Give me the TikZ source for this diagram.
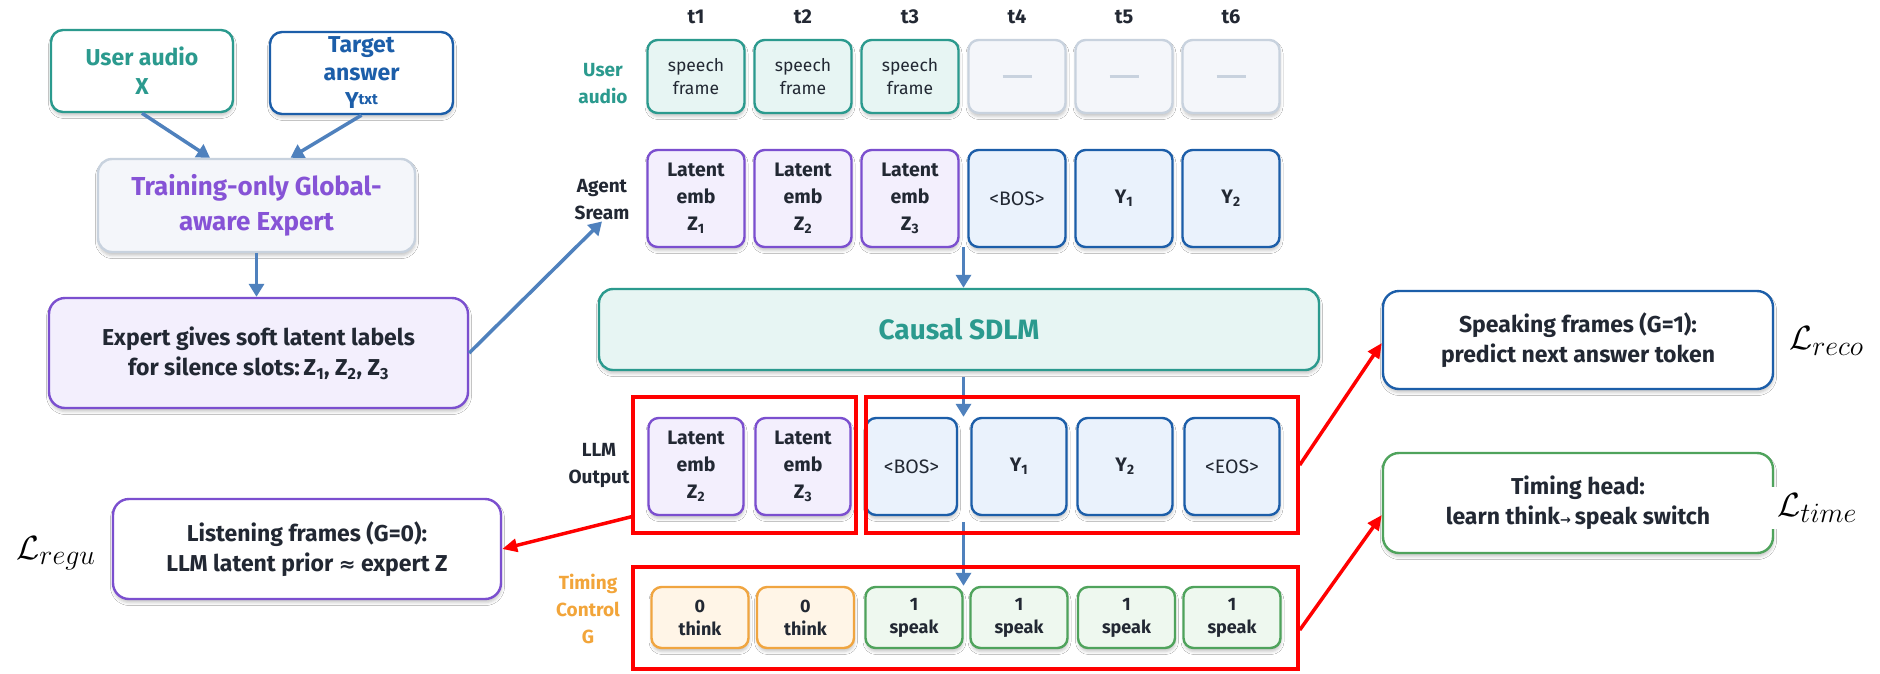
\documentclass[tikz,border=0pt]{standalone}
\usepackage{graphicx}
\usepackage{fontspec}
\setmainfont{Fira Sans}
\newfontfamily\symfont{DejaVu Sans}
\usetikzlibrary{arrows.meta,shadows.blur,calc}

\newcommand{\fsz}[2]{\fontsize{#1}{#2}\selectfont}
\newcommand{\lossterm}[1]{\scalebox{1.35}{\fsz{24.88}{25}$\mathcal{L}_{#1}$}}

\definecolor{tealc}{HTML}{2B9A8E}
\definecolor{tealf}{HTML}{E7F5F3}
\definecolor{bluec}{HTML}{1C5EA9}
\definecolor{bluef}{HTML}{EAF2FC}
\definecolor{purc}{HTML}{7B4FCF}
\definecolor{purf}{HTML}{F3EFFD}
\definecolor{purt}{HTML}{8653D6}
\definecolor{grayb}{HTML}{C8D2DE}
\definecolor{grayf}{HTML}{F4F6FA}
\definecolor{orc}{HTML}{F0A540}
\definecolor{orf}{HTML}{FFF5E7}
\definecolor{ort}{HTML}{F2A53A}
\definecolor{grc}{HTML}{4FA35C}
\definecolor{grf}{HTML}{EEF8EF}
\definecolor{flowc}{HTML}{4F81BD}
\definecolor{inkc}{HTML}{222833}

\begin{document}
\begin{tikzpicture}[x=1pt,y=-1pt,
  card/.style={rounded corners=12pt, line width=2.4pt, align=center, inner sep=0pt, text=inkc,
    blur shadow={shadow xshift=0.5pt, shadow yshift=-3.5pt, shadow blur radius=3pt, shadow opacity=22}},
  cell/.style={card, rounded corners=10pt, minimum width=97pt},
  tealcell/.style={cell, draw=tealc, fill=tealf, minimum height=73pt, font=\fsz{17.5}{23}},
  idlecell/.style={cell, draw=grayb, fill=grayf, minimum height=73pt},
  latcell/.style={cell, draw=purc, fill=purf, font=\bfseries\fsz{19.5}{27}},
  tokcell/.style={cell, draw=bluec, fill=bluef, font=\bfseries\fsz{19.5}{27}},
  thinkcell/.style={cell, draw=orc, fill=orf, minimum height=61pt, font=\bfseries\fsz{18}{23}},
  speakcell/.style={cell, draw=grc, fill=grf, minimum height=61pt, font=\bfseries\fsz{18}{23}},
  rowlab/.style={align=center, font=\bfseries\fsz{19}{27}, text=inkc, inner sep=1pt},
  tlab/.style={font=\bfseries\fsz{20}{20}, text=inkc},
  flow/.style={draw=flowc, line width=3.5pt, -{Triangle[length=13pt,width=15pt]}},
  redbox/.style={draw=red, line width=3.5pt, inner sep=0pt},
  redarrow/.style={draw=red, line width=3.5pt, -{Triangle[length=15pt,width=13pt]}},
  loss/.style={inner sep=2pt},
]
\fill[white] (0,0) rectangle (1880,673);
\useasboundingbox (0,0) rectangle (1880,673);

% ---------- expert branch (left) ----------
\node[card, draw=tealc, fill=white, minimum width=182pt, minimum height=82pt,
      text=tealc, font=\bfseries\fsz{23}{29}] (ua) at (142,71) {User audio\\X};
\node[card, draw=bluec, fill=white, minimum width=183pt, minimum height=82pt,
      text=bluec, font=\bfseries\fsz{23}{28}] (ta) at (361.5,73)
      {Target\\answer\\Y\raisebox{4pt}{\fsz{15}{15}txt}};
\node[card, rounded corners=14pt, draw=grayb, fill=grayf, minimum width=317pt, minimum height=93pt,
      text=purt, font=\bfseries\fsz{26}{35}] (tr) at (256.5,205.5)
      {Training-only Global-\\aware Expert};
\node[card, rounded corners=16pt, draw=purc, fill=purf, minimum width=419pt, minimum height=110pt,
      font=\bfseries\fsz{23}{30}] (ex) at (258.5,353)
      {Expert gives soft latent labels\\for silence slots:\,Z\textsubscript{1}, Z\textsubscript{2}, Z\textsubscript{3}};
\node[card, rounded corners=16pt, draw=purc, fill=white, minimum width=388pt, minimum height=100pt,
      font=\bfseries\fsz{23}{30}] (li) at (307,549)
      {Listening frames (G=0):\\LLM latent prior {\symfont\fsz{20}{20}≈} expert Z};
\node[loss] (lregu) at (56,553) {\lossterm{regu}};

\draw[flow] (ua.south) -- ([xshift=-46.5pt]tr.north);
\draw[flow] (ta.south) -- ([xshift=34pt]tr.north);
\draw[flow] (tr.south) -- (tr.south |- ex.north);

% ---------- time axis ----------
\foreach \i/\x in {1/696,2/803,3/910,4/1017,5/1124,6/1231}
  \node[tlab] (t\i) at (\x,17) {t\i};

% ---------- row labels ----------
\node[rowlab, text=tealc] (labua) at (603,83.5) {User\\audio};
\node[rowlab] (labag) at (602,200) {Agent\\Sream};
\node[rowlab] (labllm) at (599,465.5) {LLM\\Output};
\node[rowlab, text=ort] (labtc) at (588,609) {Timing\\Control\\G};

% ---------- user audio stream ----------
\node[tealcell] (u1) at (696,76.5) {speech\\frame};
\node[tealcell] (u2) at (803,76.5) {speech\\frame};
\node[tealcell] (u3) at (910,76.5) {speech\\frame};
\node[idlecell] (u4) at (1017,76.5) {{\color{grayb}\rule{29pt}{3.5pt}}};
\node[idlecell] (u5) at (1124,76.5) {{\color{grayb}\rule{29pt}{3.5pt}}};
\node[idlecell] (u6) at (1231,76.5) {{\color{grayb}\rule{29pt}{3.5pt}}};

% ---------- agent stream ----------
\node[latcell, minimum height=97pt] (a1) at (696,198.5) {Latent\\emb\\Z\textsubscript{1}};
\node[latcell, minimum height=97pt] (a2) at (803,198.5) {Latent\\emb\\Z\textsubscript{2}};
\node[latcell, minimum height=97pt] (a3) at (910,198.5) {Latent\\emb\\Z\textsubscript{3}};
\node[tokcell, minimum height=97pt, font=\fsz{19.5}{27}] (a4) at (1017,198.5) {<BOS>};
\node[tokcell, minimum height=97pt] (a5) at (1124,198.5) {Y\textsubscript{1}};
\node[tokcell, minimum height=97pt] (a6) at (1231,198.5) {Y\textsubscript{2}};

\draw[flow] (ex.east) -- (labag.south);

% ---------- model ----------
\node[card, rounded corners=14pt, draw=tealc, fill=tealf, minimum width=720pt, minimum height=81pt,
      text=tealc, font=\bfseries\fsz{28}{28}] (cs) at (959,329.5) {Causal SDLM};

% ---------- LLM output ----------
\node[latcell, minimum width=95pt, minimum height=97pt] (o1) at (696,466.5) {Latent\\emb\\Z\textsubscript{2}};
\node[latcell, minimum width=95pt, minimum height=97pt] (o2) at (803,466.5) {Latent\\emb\\Z\textsubscript{3}};
\node[tokcell, minimum width=91pt, minimum height=97pt, font=\fsz{19.5}{27}] (o3) at (911.5,466.5) {<BOS>};
\node[tokcell, minimum width=95pt, minimum height=97pt] (o4) at (1019,466.5) {Y\textsubscript{1}};
\node[tokcell, minimum width=95pt, minimum height=97pt] (o5) at (1125,466.5) {Y\textsubscript{2}};
\node[tokcell, minimum width=95pt, minimum height=97pt, font=\fsz{19.5}{27}] (o6) at (1232,466.5) {<EOS>};

% ---------- timing control ----------
\node[thinkcell] (g1) at (700,617.5) {0\\think};
\node[thinkcell] (g2) at (805.5,617.5) {0\\think};
\node[speakcell] (g3) at (914,617.5) {1\\speak};
\node[speakcell] (g4) at (1019,617.5) {1\\speak};
\node[speakcell] (g5) at (1126.5,617.5) {1\\speak};
\node[speakcell] (g6) at (1232,617.5) {1\\speak};

% ---------- vertical flow through the model ----------
\coordinate (j1) at (963.5,247);
\coordinate (j2) at (963.5,377);
\coordinate (j3) at (963.5,522);
\draw[flow] (j1) -- (j1 |- cs.north);
\draw[flow] (j2) -- (j2 |- o3.north);
\draw[flow] (j3) -- (j3 |- g3.north);

% ---------- loss groups ----------
\node[redbox, minimum width=223pt, minimum height=136pt] (rl) at (744.5,465) {};
\node[redbox, minimum width=432pt, minimum height=136pt] (rr) at (1082,465) {};
\node[redbox, minimum width=665pt, minimum height=102pt] (rt) at (965.5,618) {};

% ---------- loss heads (right) ----------
\node[card, rounded corners=16pt, draw=bluec, fill=white, minimum width=390pt, minimum height=98pt,
      font=\bfseries\fsz{23}{30}] (sp) at (1578,340)
      {Speaking frames (G=1):\\predict next answer token};
\node[card, rounded corners=16pt, draw=grc, fill=white, minimum width=390pt, minimum height=100pt,
      font=\bfseries\fsz{23}{30}] (th) at (1578,503)
      {Timing head:\\learn think{\symfont\fsz{13}{13}→}\,speak switch};
\node[loss, anchor=west] (lreco) at (1787,341) {\lossterm{reco}};
\node[loss, anchor=west, fill=white, inner xsep=7pt, inner ysep=6pt] (ltime) at (1770,508) {\lossterm{time}};

\draw[redarrow] ([yshift=18pt]rl.south west) -- (li.east);
\draw[redarrow] (rr.east) -- ([yshift=-3pt]sp.west);
\draw[redarrow] ([yshift=-12pt]rt.east) -- ([yshift=-12pt]th.west);
\end{tikzpicture}
\end{document}
